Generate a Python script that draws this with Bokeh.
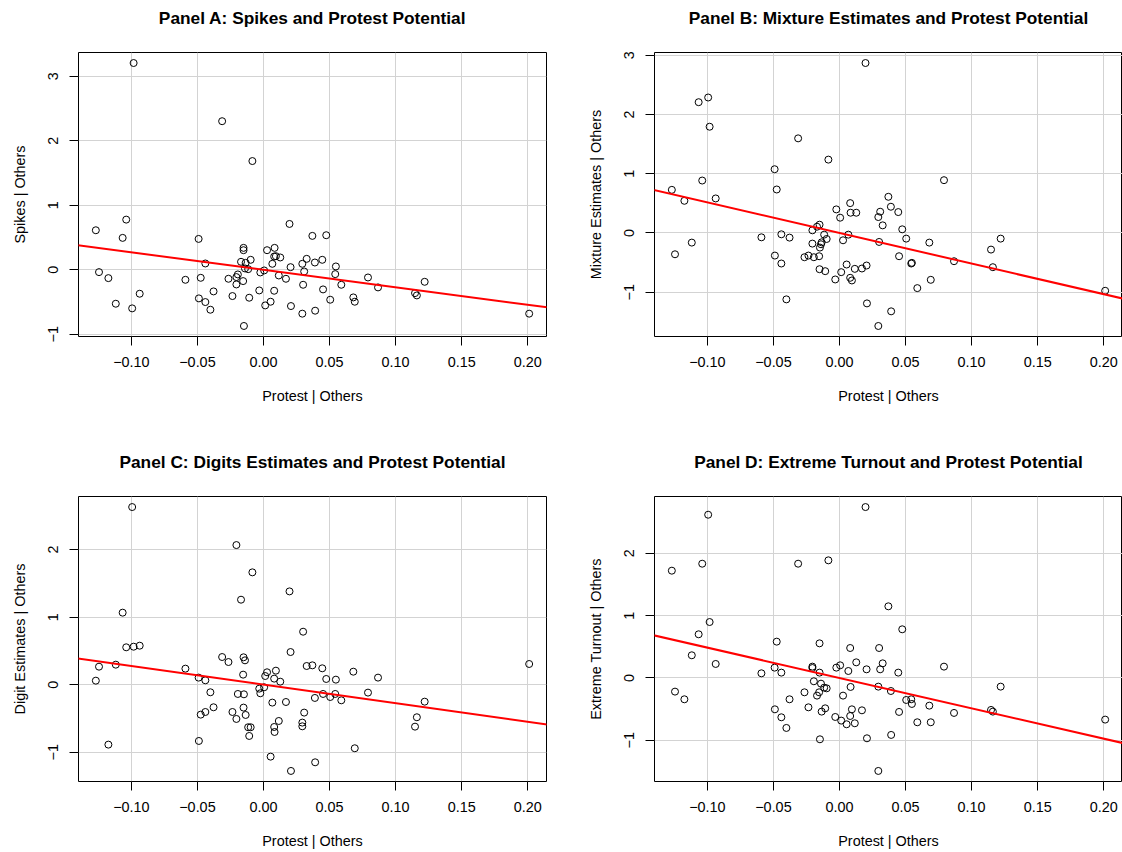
import numpy as np
from bokeh.plotting import figure
from bokeh.layouts import column, row
from bokeh.models import FixedTicker, CustomJSTickFormatter, Slope, Range1d, ColumnDataSource
from bokeh.embed import file_html
from bokeh.resources import INLINE

# ---------------- data ----------------
protest = [-0.1269, -0.1245, -0.1174, -0.1118, -0.1066, -0.1039, -0.0994, -0.0983, -0.0937, -0.0591,
           -0.0491, -0.0489, -0.0475, -0.0440, -0.0440, -0.0402, -0.0378, -0.0313, -0.0265, -0.0235,
           -0.0205, -0.0205, -0.0194, -0.0170, -0.0154, -0.0151, -0.0151, -0.0148, -0.0140, -0.0135,
           -0.0116, -0.0108, -0.0097, -0.0084, -0.0032, -0.0024, 0.0005, 0.0013, 0.0027, 0.0054,
           0.0067, 0.0081, 0.0081, 0.0084, 0.0094, 0.0116, 0.0127, 0.0170, 0.0197, 0.0205,
           0.0208, 0.0294, 0.0294, 0.0300, 0.0308, 0.0327, 0.0370, 0.0389, 0.0391, 0.0445,
           0.0451, 0.0475, 0.0505, 0.0543, 0.0548, 0.0589, 0.0680, 0.0691, 0.0791, 0.0867,
           0.1147, 0.1161, 0.1220, 0.2011]

spikes = [0.613, -0.036, -0.129, -0.526, 0.495, 0.778, -0.598, 3.206, -0.371, -0.155,
          0.479, -0.443, -0.124, 0.098, -0.500, -0.619, -0.335, 2.304, -0.139, -0.407,
          -0.113, -0.227, -0.072, 0.124, -0.175, 0.340, 0.304, -0.871, 0.021, 0.108,
          0.010, -0.433, 0.155, 1.686, -0.320, -0.041, -0.010, -0.552, 0.304, -0.495,
          0.093, 0.206, -0.325, 0.340, 0.211, -0.088, 0.191, -0.139, 0.711, 0.041,
          -0.562, 0.093, -0.680, -0.232, -0.026, 0.170, 0.526, 0.113, -0.634, 0.155,
          -0.304, 0.536, -0.464, -0.067, 0.052, -0.232, -0.428, -0.495, -0.119, -0.273,
          -0.361, -0.397, -0.186, -0.680]

mixture = [0.728, -0.359, 0.543, -0.162, 2.207, 0.885, 2.286, 1.793, 0.583, -0.073,
           1.076, -0.381, 0.734, -0.022, -0.515, -1.120, -0.078, 1.597, -0.409, -0.381,
           -0.179, 0.045, -0.409, 0.106, -0.392, 0.140, -0.611, -0.246, -0.190, -0.157,
           -0.028, -0.644, -0.101, 1.238, -0.784, 0.398, 0.258, -0.661, -0.123, -0.532,
           -0.028, 0.504, -0.756, 0.342, -0.801, -0.605, 0.342, -0.599, 2.868, -0.549,
           -1.188, 0.269, -1.569, -0.151, 0.359, 0.129, 0.611, 0.443, -1.322, 0.353,
           -0.392, 0.062, -0.095, -0.515, -0.504, -0.930, -0.162, -0.790, 0.891, -0.476,
           -0.280, -0.577, -0.095, -0.975]

digits = [0.059, 0.266, -0.888, 0.296, 1.066, 0.553, 2.630, 0.562, 0.577, 0.237,
          0.104, -0.834, -0.444, 0.064, -0.405, -0.113, -0.335, 0.409, 0.335, -0.405,
          2.067, -0.508, -0.138, 1.258, 0.148, -0.340, 0.405, -0.143, 0.360, -0.449,
          -0.631, -0.760, -0.631, 1.663, -0.059, -0.128, -0.039, 0.128, 0.183, -1.066,
          -0.266, 0.089, -0.627, -0.701, 0.207, -0.538, 0.044, -0.257, 1.381, 0.483,
          -1.278, -0.562, -0.617, 0.784, -0.414, 0.276, 0.286, -0.197, -1.150, 0.242,
          -0.138, 0.084, -0.183, -0.138, 0.074, -0.232, 0.192, -0.942, -0.118, 0.104,
          -0.622, -0.483, -0.252, 0.306]

extreme = [1.722, -0.219, -0.342, 0.364, 0.701, 1.834, 2.620, 0.898, 0.225, 0.075,
           0.166, -0.503, 0.583, 0.086, -0.631, -0.802, -0.342, 1.834, -0.230, -0.471,
           0.182, 0.160, -0.053, -0.283, -0.230, 0.086, 0.556, -0.984, -0.091, -0.540,
           -0.155, -0.487, -0.166, 1.888, -0.626, 0.166, 0.203, -0.684, -0.283, -0.743,
           0.112, 0.481, -0.610, -0.144, -0.503, -0.727, 0.251, -0.519, 2.743, 0.139,
           -0.968, -0.139, -1.492, 0.481, 0.139, 0.235, 1.150, -0.209, -0.914, 0.086,
           -0.545, 0.781, -0.353, -0.342, -0.417, -0.711, -0.444, -0.711, 0.182, -0.561,
           -0.513, -0.540, -0.139, -0.668]

titles = ["Panel A: Spikes and Protest Potential",
          "Panel B: Mixture Estimates and Protest Potential",
          "Panel C: Digits Estimates and Protest Potential",
          "Panel D: Extreme Turnout and Protest Potential"]
y_labels = ["Spikes | Others", "Mixture Estimates | Others",
            "Digit Estimates | Others", "Extreme Turnout | Others"]
x_label = "Protest | Others"

# fitted added-variable slopes
fit_slopes = [-2.71, -5.16, -2.75, -4.87]
fit_intercepts = [0.0, 0.0, 0.0, 0.0]

x_ticks = [-0.10, -0.05, 0.00, 0.05, 0.10, 0.15, 0.20]
y_ticks = [[-1, 0, 1, 2, 3], [-1, 0, 1, 2, 3], [-1, 0, 1, 2], [-1, 0, 1, 2]]

FONT = "Liberation Sans"


def padded(vals):
    lo, hi = min(vals), max(vals)
    r = hi - lo
    return lo - 0.04 * r, hi + 0.04 * r


def fmt(decimals):
    return CustomJSTickFormatter(code="""
        const v = Math.abs(tick) < 1e-9 ? 0 : tick;
        return (v < 0 ? '\\u2212' : '') + Math.abs(v).toFixed(%d);
    """ % decimals)


def make_panel(i, yvals, width, height, left, right, top, bottom):
    x0, x1 = padded(protest)
    y0, y1 = padded(yvals)
    p = figure(width=width, height=height, output_backend="svg", toolbar_location=None,
               x_range=Range1d(x0, x1), y_range=Range1d(y0, y1),
               min_border_left=left, min_border_right=right,
               min_border_top=top, min_border_bottom=bottom)
    p.background_fill_color = "white"
    p.border_fill_color = "white"
    p.outline_line_color = "black"
    p.outline_line_width = 1
    p.outline_line_alpha = 1.0

    p.title.text = titles[i]
    p.title.align = "center"
    p.title.text_font = FONT
    p.title.text_font_size = "17.3px"
    p.title.text_font_style = "bold"
    p.title.text_color = "black"
    p.title.standoff = 10
    p.title.padding = dict(left=0, right=0, top=0, bottom=20)

    p.xaxis.ticker = FixedTicker(ticks=x_ticks)
    p.yaxis.ticker = FixedTicker(ticks=y_ticks[i])
    p.xaxis.formatter = fmt(2)
    p.yaxis.formatter = fmt(0)
    p.xaxis.axis_label = x_label
    p.yaxis.axis_label = y_labels[i]
    p.yaxis.major_label_orientation = "vertical"
    for ax in (p.xaxis[0], p.yaxis[0]):
        ax.axis_line_color = None
        ax.major_tick_line_color = "black"
        ax.major_tick_out = 9
        ax.major_tick_in = 0
        ax.minor_tick_out = 0
        ax.minor_tick_in = 0
        ax.major_label_text_font = FONT
        ax.major_label_text_font_size = "14.4px"
        ax.major_label_text_color = "black"
        ax.axis_label_text_font = FONT
        ax.axis_label_text_font_size = "14.4px"
        ax.axis_label_text_font_style = "normal"
        ax.axis_label_text_color = "black"
    p.xaxis.major_label_standoff = 11
    p.yaxis.major_label_standoff = 11
    p.xaxis.axis_label_standoff = 18
    p.yaxis.axis_label_standoff = 18

    p.xgrid.ticker = FixedTicker(ticks=x_ticks)
    p.ygrid.ticker = FixedTicker(ticks=y_ticks[i])
    p.grid.grid_line_color = "#d3d3d3"
    p.grid.grid_line_width = 1

    src = ColumnDataSource(dict(x=protest, y=yvals))
    p.scatter("x", "y", source=src, marker="circle", size=7, fill_color=None,
              line_color="black", line_width=1)
    p.add_layout(Slope(gradient=fit_slopes[i], y_intercept=fit_intercepts[i],
                       line_color="red", line_width=2))
    return p


series = [spikes, mixture, digits, extreme]
pA = make_panel(0, series[0], 561, 425, 78, 15, 51, 89)
pB = make_panel(1, series[1], 561, 425, 93, 0, 51, 89)
pC = make_panel(2, series[2], 561, 427, 78, 15, 71, 71)
pD = make_panel(3, series[3], 561, 427, 93, 0, 71, 71)

layout = column(row(pA, pB, spacing=0), row(pC, pD, spacing=0), spacing=0)

with open("out.html", "w", encoding="utf-8") as f:
    f.write(file_html(layout, INLINE))
